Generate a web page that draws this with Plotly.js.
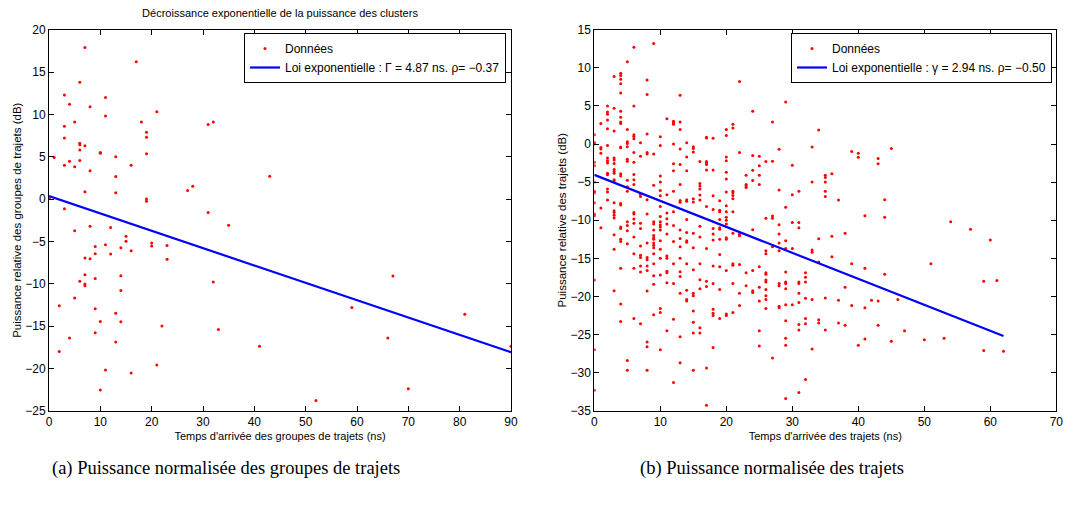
<!DOCTYPE html>
<html>
<head>
<meta charset="utf-8">
<script src="https://cdn.plot.ly/plotly-3.0.1.min.js"></script>
<style>html,body{margin:0;padding:0;background:#fff;}#chart{width:1092px;height:512px;}</style>
</head>
<body>
<div id="chart"></div>
<script>
// ---- (a) cluster data ----
const clusterTimes = [7,17,6,3,11,4,8,21,11,5,18,32,31,3,19,19,3,6,6,7,6,10,10,19,1,13,4,6,3,5,16,8,13,43,28,27,7,13,0,19,19,3,31,35,8,12,5,15,15,11,20,20,23,9,14,16,9,12,7,8,23,7,14,67,9,6,32,7,7,14,5,2,59,9,13,81,10,14,22,33,9,4,66,13,41,90,2,21,11,16,10,70,52];
const clusterPowers = [17.9,16.2,13.8,12.3,12.0,11.2,10.9,10.3,9.8,9.1,9.1,9.1,8.8,8.6,7.9,7.3,7.2,6.6,6.4,6.3,5.8,5.5,5.4,5.35,4.9,5.0,4.45,4.55,4.0,3.8,4.0,3.35,2.65,2.7,1.5,1.0,0.87,0.75,0.1,0.0,-0.25,-1.15,-1.6,-3.1,-3.2,-3.35,-3.75,-4.4,-5.0,-5.4,-5.2,-5.55,-5.5,-5.6,-5.75,-6.1,-6.45,-6.5,-6.95,-7.05,-7.1,-8.95,-9.05,-9.1,-9.4,-9.7,-9.8,-10.05,-10.25,-10.8,-11.7,-12.6,-12.8,-12.95,-13.5,-13.6,-14.45,-14.5,-15.0,-15.4,-15.8,-16.4,-16.4,-16.9,-17.4,-17.4,-18.0,-19.6,-20.2,-20.55,-22.55,-22.4,-23.8];
const clusterFitX = [0, 90];
const clusterFitY = [0.35, -18.1];

// ---- (b) path data: arrival time (ns) and the powers (dB) observed at that time ----
const pathTimes = [0,1,2,3,4,5,6,7,8,9,10,11,12,13,14,15,16,17,18,19,20,21,22,23,24,25,26,27,28,29,30,31,32,33,34,35,36,37,38,39,40,41,42,43,44,45,46,47,50,51,53,54,57,59,60,61,62];
const pathPowers = [
 [1.2,0.2,0,-2.4,-2.85,-5.0,-6.2,-6.4,-7.7,-9.2,-9.4,-17.85,-27.0,-32.3],
 [2.7,-0.45,-0.65,-1.2,-8.4,-11.0],
 [5.0,4.2,3.9,3.15,2.0,-0.2,-1.85,-2.2,-2.5,-3.85,-4.05,-5.9,-6.3,-7.35],
 [8.85,4.7,1.7,-1.85,-2.1,-2.55,-3.35,-3.6,-3.85,-4.7,-4.85,-7.7,-8.75,-9.0,-9.35,-9.7,-11.9,-13.8,-19.25],
 [9.3,9.0,8.5,7.9,6.7,4.3,3.5,2.9,2.7,-0.4,-0.5,-3.9,-4.2,-7.8,-8.0,-10.9,-11.1,-12.5,-12.8,-16.3,-21.0,-23.3],
 [10.8,1.9,0.3,0.05,-0.35,-2.0,-2.25,-4.75,-5.6,-6.2,-10.2,-10.7,-11.4,-13.1,-28.4,-29.7],
 [12.7,5.0,1.2,1.0,0.7,-1.1,-2.4,-4.0,-4.7,-5.3,-9.0,-9.2,-9.85,-10.4,-12.2,-14.4,-16.3,-22.9],
 [0.15,-1.6,-6.6,-6.9,-10.4,-11.1,-13.4,-14.6,-14.9,-16.0,-16.8,-23.6],
 [8.4,6.5,1.3,-1.1,-1.3,-7.3,-9.2,-13.0,-14.9,-15.2,-16.0,-16.6,-19.3,-26.0,-26.6,-29.7],
 [13.2,-1.3,-5.4,-10.2,-10.5,-11.3,-12.0,-12.3,-12.5,-13.0,-13.3,-13.6,-14.4,-15.7,-17.3,-18.4,-22.4],
 [0.95,-0.2,-4.2,-5.0,-6.1,-6.8,-8.2,-9.5,-10.2,-10.6,-10.9,-11.3,-12.7,-13.8,-15.0,-17.2,-21.6,-22.1,-27.0],
 [3.3,-6.65,-9.05,-9.8,-10.5,-11.8,-14.7,-15.0,-16.7,-16.9,-18.2,-24.5],
 [3.0,2.8,2.6,0.0,-2.6,-3.5,-6.2,-8.9,-10.7,-12.8,-15.7,-18.3,-23.0,-31.3],
 [6.4,2.9,1.9,-0.65,-2.7,-5.3,-7.4,-7.65,-11.3,-12.4,-13.5,-15.0,-16.75,-17.4,-19.6,-25.3,-28.7],
 [0.15,-1.7,-3.5,-7.3,-7.5,-9.9,-11.6,-12.7,-12.9,-15.7,-19.2,-20.4,-20.6],
 [-0.35,-0.6,-1.05,-7.2,-7.6,-11.7,-13.6,-16.5,-19.6,-19.9,-21.9,-23.4,-24.8,-29.7],
 [-2.3,-5.2,-5.5,-5.9,-6.7,-7.35,-10.8,-12.2,-15.7,-17.8,-19.0,-24.1,-24.8],
 [0.9,0.8,-2.3,-2.45,-2.7,-3.4,-8.2,-13.7,-18.0,-18.7,-29.4,-34.3],
 [0.75,-3.4,-6.8,-8.6,-11.1,-11.8,-12.6,-16.0,-18.3,-21.7,-22.2,-22.5,-26.7],
 [-7.45,-8.7,-8.9,-9.9,-11.0,-11.2,-12.5,-14.5,-16.1,-19.1,-22.9],
 [1.9,1.1,-1.7,-2.2,-3.7,-4.6,-6.3,-8.1,-8.9,-9.6,-10.0,-10.5,-12.3,-12.5,-16.6,-22.3,-22.5],
 [2.6,2.1,-6.2,-6.4,-6.75,-7.2,-8.9,-11.7,-15.7,-15.9,-18.3,-22.1],
 [8.2,-1.1,-11.85,-12.05,-15.8,-19.6,-21.2],
 [-4.1,-5.3,-5.5,-5.7,-16.9,-18.6],
 [4.3,-1.5,-3.45,-4.8,-11.25,-16.6,-19.25,-19.5],
 [-1.6,-2.85,-4.1,-5.3,-16.1,-18.8,-20.6,-24.5,-26.5],
 [-2.3,-9.75,-14.0,-14.4,-16.9,-17.1,-17.85,-18.1,-19.1,-19.9,-20.4,-21.6],
 [2.9,-2.25,-9.45,-9.75,-13.5,-28.1],
 [-0.7,-6.05,-10.6,-11.8,-13.0,-14.0,-18.3,-18.6,-21.3,-21.5],
 [5.5,-8.3,-12.7,-13.7,-16.8,-18.1,-18.3,-19.0,-21.1,-23.2,-25.5,-26.4,-33.4],
 [-2.8,-6.65,-10.3,-13.7,-21.1],
 [-6.2,-10.3,-11.0,-18.1,-18.3,-19.6,-20.8,-23.7,-24.4,-32.6],
 [-16.9,-17.5,-18.1,-20.25,-22.9,-23.6,-30.9],
 [-0.4,-5.0,-13.9,-14.2,-20.4,-26.9],
 [1.85,-12.45,-15.5,-23.05,-23.5],
 [-4.1,-4.4,-5.0,-6.2,-6.9,-20.2,-24.4],
 [-3.9,-12.1,-14.8],
 [-7.35,-20.5,-23.5],
 [-11.7,-18.8,-23.8],
 [-1.0,-15.7,-21.2],
 [-1.2,-1.75,-26.4],
 [-9.4,-16.3,-21.5,-25.6],
 [-20.5],
 [-1.9,-2.6,-20.6,-23.8],
 [-7.3,-9.6,-17.1],
 [-0.6,-25.9],
 [-20.4],
 [-24.5],
 [-25.7],
 [-15.7],
 [-25.5],
 [-10.2],
 [-11.2],
 [-18.0,-27.1],
 [-12.6],
 [-17.9],
 [-27.2]
];
const pathFitX = [0, 62];
const pathFitY = [-4.05, -25.2];

// ---- texts ----
const titleA = 'Décroissance exponentielle de la puissance des clusters';
const xTitleA = "Temps d'arrivée des groupes de trajets (ns)";
const yTitleA = 'Puissance relative des groupes de trajets (dB)';
const xTitleB = "Temps d'arrivée des trajets (ns)";
const yTitleB = 'Puissance relative des trajets (dB)';
const legData = 'Données';
const legFitA = 'Loi exponentielle : Γ = 4.87 ns. ρ= −0.37';
const legFitB = 'Loi exponentielle : γ = 2.94 ns. ρ= −0.50';
const captionA = '(a) Puissance normalisée des groupes de trajets';
const captionB = '(b) Puissance normalisée des trajets';

// flatten path data
const pathX = [], pathY = [];
pathTimes.forEach((t, i) => pathPowers[i].forEach(v => { pathX.push(t); pathY.push(v); }));

const W = 1092, H = 512;
const sans = 'Liberation Sans, Arial, Helvetica, sans-serif';
const dotMarker = {color: '#ff0000', size: 3, symbol: 'circle', line: {width: 0}};
const fitLine = {color: '#0000ff', width: 2.2};

const traces = [
  {x: clusterTimes, y: clusterPowers, type: 'scatter', mode: 'markers', marker: dotMarker, name: legData, xaxis: 'x', yaxis: 'y', legend: 'legend'},
  {x: clusterFitX, y: clusterFitY, type: 'scatter', mode: 'lines', line: fitLine, name: legFitA, xaxis: 'x', yaxis: 'y', legend: 'legend'},
  {x: pathX, y: pathY, type: 'scatter', mode: 'markers', marker: dotMarker, name: legData, xaxis: 'x2', yaxis: 'y2', legend: 'legend2'},
  {x: pathFitX, y: pathFitY, type: 'scatter', mode: 'lines', line: fitLine, name: legFitB, xaxis: 'x2', yaxis: 'y2', legend: 'legend2'}
];

function axisBase(extra) {
  return Object.assign({
    showline: true, linecolor: '#000', linewidth: 1, mirror: 'ticks',
    ticks: 'inside', ticklen: 5, tickcolor: '#000', tickwidth: 1,
    showgrid: false, zeroline: false, fixedrange: true,
    tickfont: {family: sans, size: 12, color: '#000'}
  }, extra);
}

const yDom = [1 - 410.7 / H, 1 - 29.7 / H];
const legendBase = {xanchor: 'right', y: 1 - 33 / H, yanchor: 'top', bgcolor: '#fff', bordercolor: '#000', borderwidth: 1,
  font: {family: sans, size: 12, color: '#000'}, tracegroupgap: 0, itemsizing: 'trace'};
const layout = {
  width: W, height: H,
  margin: {l: 0, r: 0, t: 0, b: 0},
  paper_bgcolor: '#fff', plot_bgcolor: '#fff',
  font: {family: sans, color: '#000'},
  title: {text: titleA, font: {family: sans, size: 11, color: '#000'}, x: 280 / W, xanchor: 'center', xref: 'paper', y: 1 - 13 / H, yanchor: 'middle', yref: 'container'},
  xaxis: axisBase({domain: [49 / W, 511 / W], range: [0, 90], dtick: 10, tick0: 0, anchor: 'y',
    title: {text: xTitleA, font: {family: sans, size: 11, color: '#000'}, standoff: 4}}),
  yaxis: axisBase({domain: yDom, range: [-25, 20], dtick: 5, tick0: 0, anchor: 'x',
    title: {text: yTitleA, font: {family: sans, size: 11.5, color: '#000'}, standoff: 1}}),
  xaxis2: axisBase({domain: [594.3 / W, 1056.3 / W], range: [0, 70], dtick: 10, tick0: 0, anchor: 'y2',
    title: {text: xTitleB, font: {family: sans, size: 11, color: '#000'}, standoff: 4}}),
  yaxis2: axisBase({domain: yDom, range: [-35, 15], dtick: 5, tick0: 0, anchor: 'x2',
    title: {text: yTitleB, font: {family: sans, size: 11.5, color: '#000'}, standoff: 1}}),
  legend: Object.assign({x: 506 / W}, legendBase),
  legend2: Object.assign({x: 1052 / W}, legendBase),
  showlegend: true,
  annotations: [
    {text: captionA, xref: 'paper', yref: 'paper', x: 226 / W, y: 1 - 468 / H, xanchor: 'center', yanchor: 'middle', showarrow: false,
      font: {family: 'Liberation Serif, Times New Roman, serif', size: 18.5, color: '#000'}},
    {text: captionB, xref: 'paper', yref: 'paper', x: 772 / W, y: 1 - 468 / H, xanchor: 'center', yanchor: 'middle', showarrow: false,
      font: {family: 'Liberation Serif, Times New Roman, serif', size: 18.5, color: '#000'}}
  ]
};

Plotly.newPlot('chart', traces, layout, {staticPlot: true, displayModeBar: false});
</script>
</body>
</html>
